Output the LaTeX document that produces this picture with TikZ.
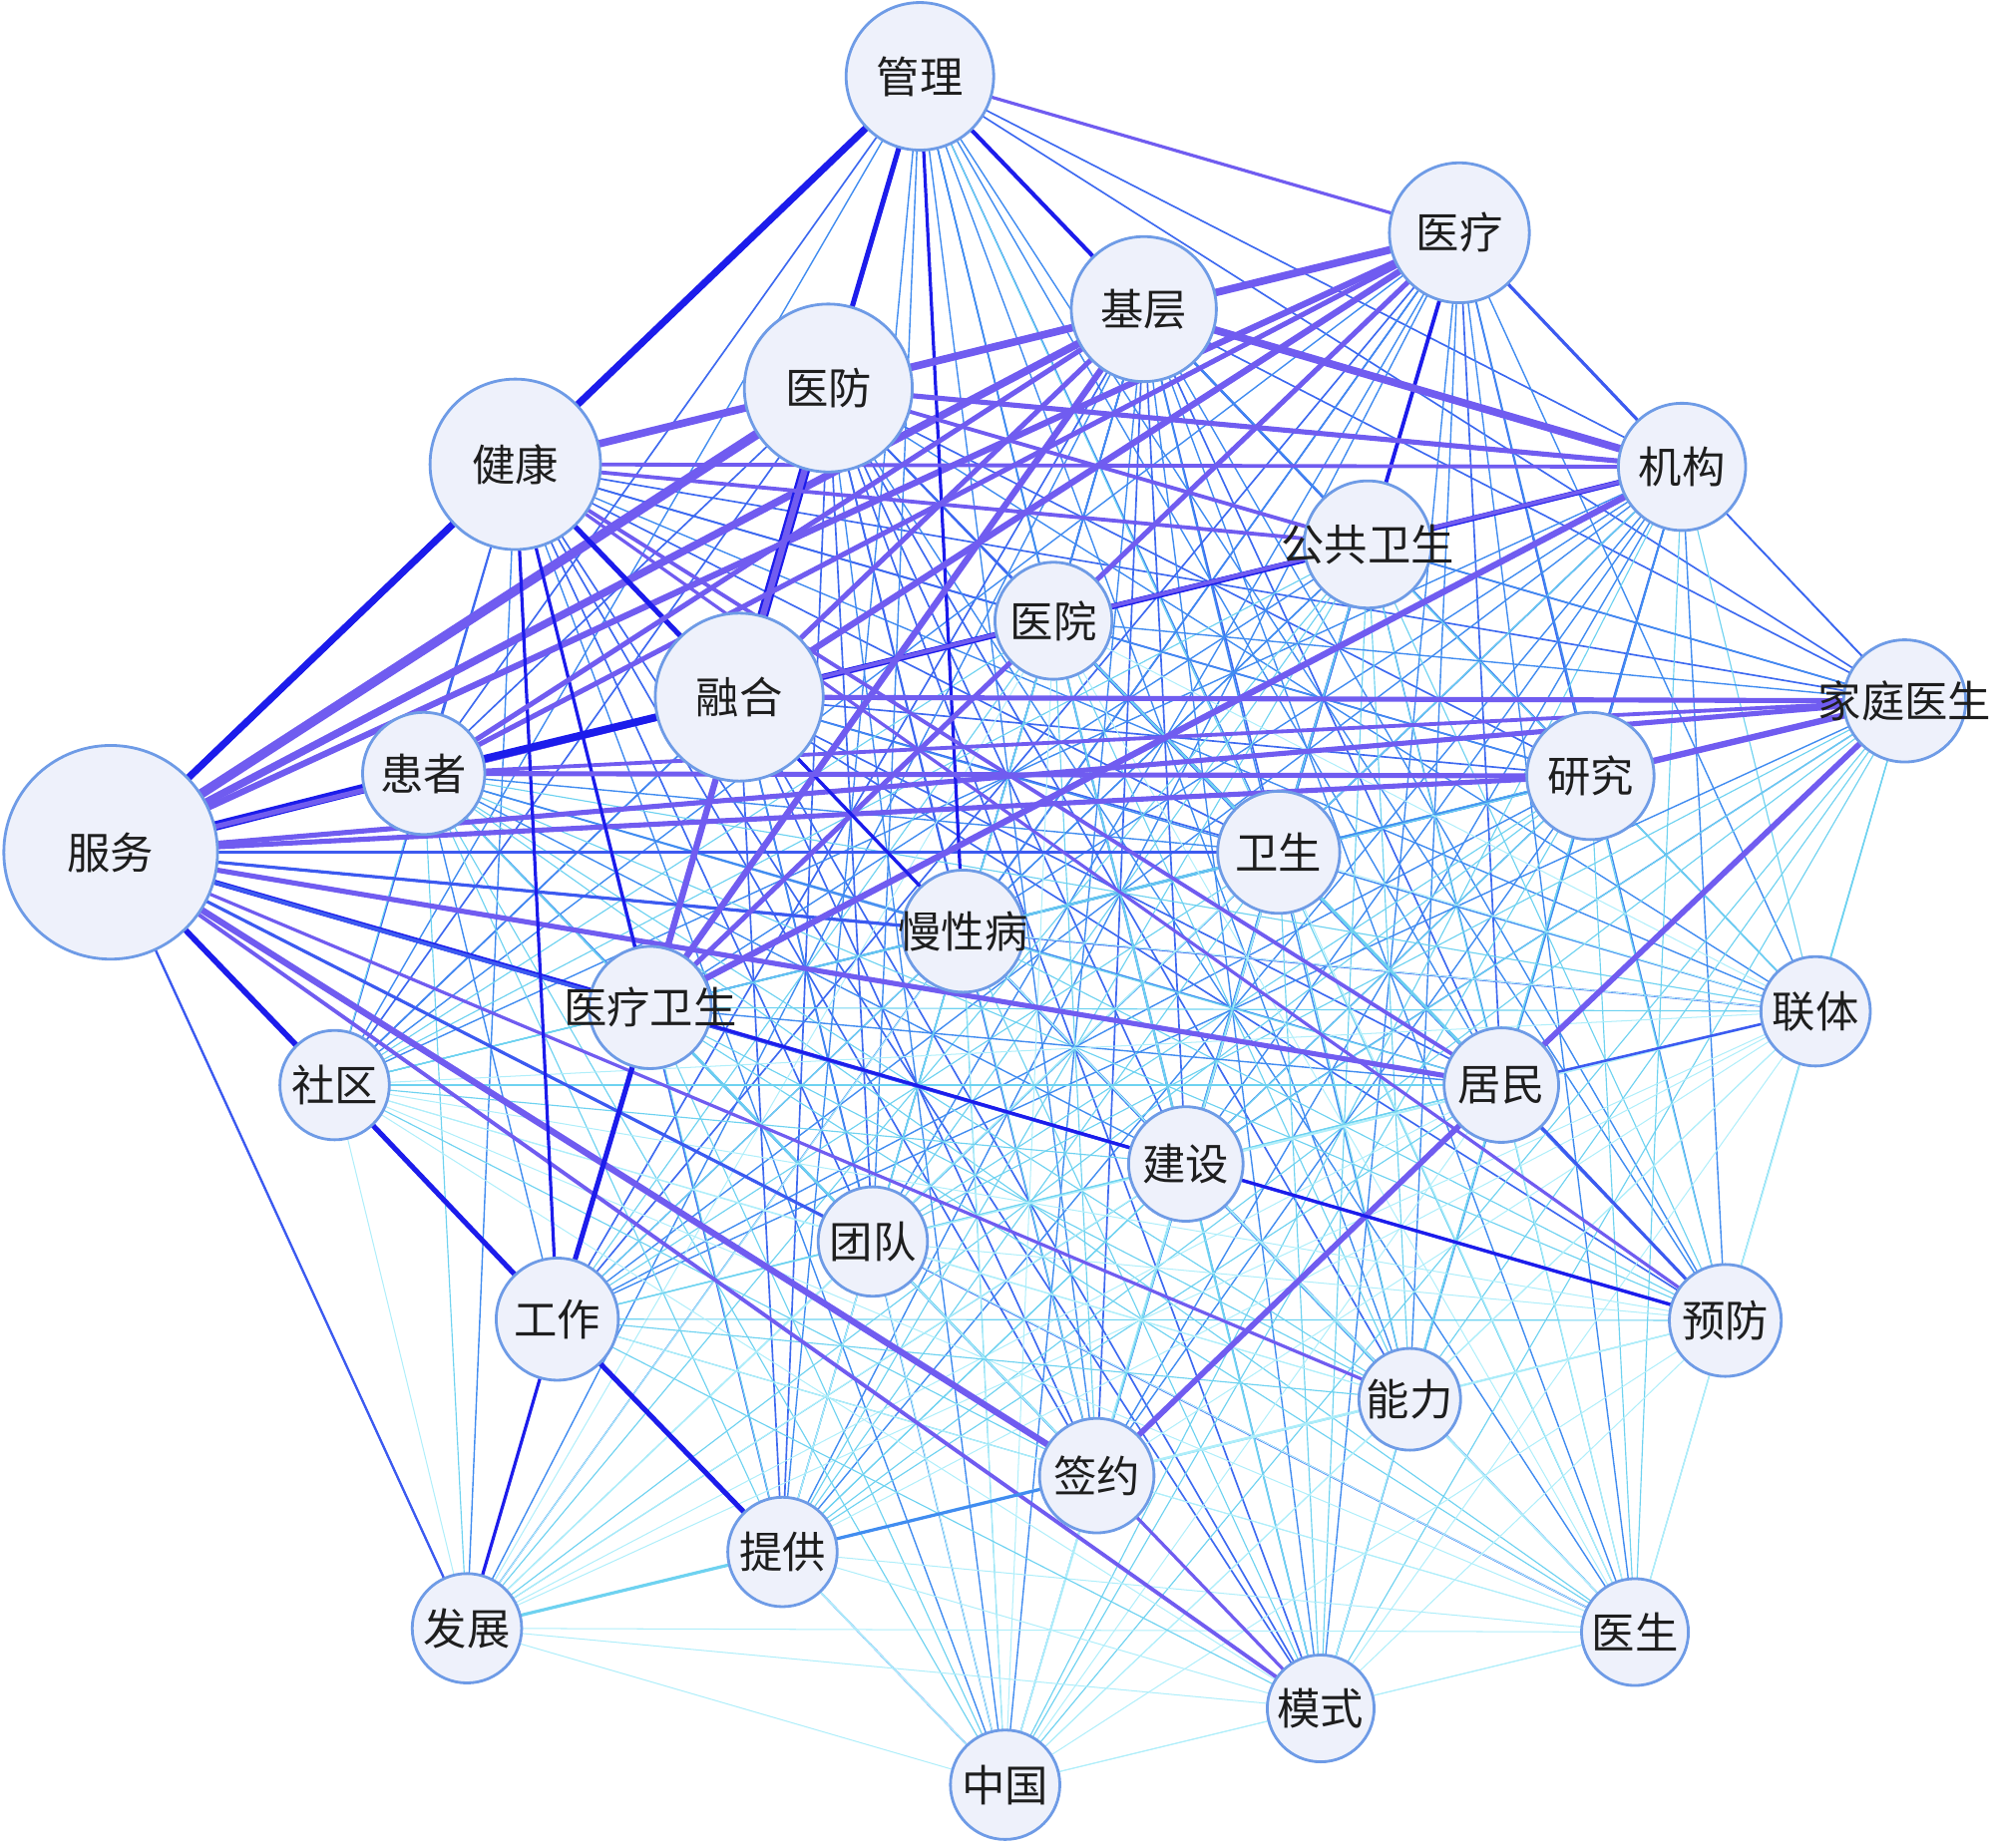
\documentclass[tikz,border=0pt]{standalone}
\usepackage{fontspec}
\setmainfont{Noto Sans CJK SC}
\usetikzlibrary{backgrounds}
\definecolor{pur}{RGB}{112,92,240}
\definecolor{dblue}{RGB}{28,28,235}
\definecolor{mblue}{RGB}{60,90,240}
\definecolor{lblue}{RGB}{65,140,240}
\definecolor{cyanl}{RGB}{110,210,240}
\definecolor{pcyan}{RGB}{175,238,250}
\definecolor{nodeb}{RGB}{110,155,230}
\definecolor{nodef}{RGB}{238,241,251}
\definecolor{txt}{RGB}{30,30,30}
\tikzset{
  kw/.style={circle, draw=nodeb, line width=2.2pt, fill=nodef, text=txt, inner sep=0pt,
    font=\fontsize{34}{34}\selectfont},
  e5/.style={draw=mblue, line width=1.6pt},
  e4/.style={draw=mblue!70!lblue, line width=1.3pt},
  e3/.style={draw=lblue, line width=1.1pt},
  e2/.style={draw=cyanl, line width=0.9pt},
  e1/.style={draw=pcyan, line width=0.8pt},
}
\def\W{{0,10,8,8,8,6,7,7,6,5,5,5,5,4,4,5,4,4,4,4,3,2,3,3,3,2,2,4,3,2,3}}
\begin{document}
\begin{tikzpicture}[x=1pt,y=-1pt]
\useasboundingbox (0,0) rectangle (1568,1452);
\foreach \i/\x/\y/\r/\t in {
 1/87/670/84/服务, 2/405/365/67/健康, 3/651/305/66/医防, 4/581/548/66/融合,
 5/723/60/58/管理, 6/899/243/57/基层, 7/1147/183/55/医疗, 8/1322/367/50/机构,
 9/1075/428/50/公共卫生, 10/1250/610/50/研究, 11/1497/551/48/家庭医生, 12/333/608/48/患者,
 13/1005/670/48/卫生, 14/757/732/48/慢性病, 15/511/792/48/医疗卫生, 16/828/488/46/医院,
 17/1180/853/45/居民, 18/932/915/45/建设, 19/862/1160/45/签约, 20/1356/1038/44/预防,
 21/1427/795/43/联体, 22/263/853/43/社区, 23/686/976/43/团队, 24/615/1220/43/提供,
 25/367/1280/43/发展, 26/790/1403/43/中国, 27/438/1037/48/工作, 28/1108/1100/40/能力,
 29/1285/1283/42/医生, 30/1038/1343/42/模式}
{
  \node[kw, minimum size=2*\r pt] (n\i) at (\x,\y) {\makebox[0pt][c]{\t}};
}
\begin{pgfonlayer}{background}
\foreach \i in {1,...,29}{
  \pgfmathtruncatemacro\s{\i+1}
  \foreach \j in {\s,...,30}{
    \pgfmathtruncatemacro\sc{\W[\i]+\W[\j]}
    \ifnum\sc>13 \def\st{e5}\else
    \ifnum\sc>10 \def\st{e4}\else
    \ifnum\sc>8 \def\st{e3}\else
    \ifnum\sc>6 \def\st{e2}\else \def\st{e1}\fi\fi\fi\fi
    \draw[\st] (n\i.center) -- (n\j.center);
  }
}
\foreach \a/\b/\c/\w in {
 1/5/dblue/5.5, 1/2/dblue/5, 1/3/pur/7.5, 1/6/pur/6, 1/7/pur/5, 1/4/pur/5,
 1/12/dblue/7.5, 1/8/pur/4, 1/11/pur/4, 1/10/pur/4, 1/13/mblue/2.5, 1/15/dblue/4,
 1/17/pur/4, 1/22/dblue/4.5, 1/19/pur/5, 1/30/pur/3, 1/18/mblue/2.5, 1/20/mblue/2.5,
 1/25/mblue/1.8, 1/23/mblue/2.5, 1/14/mblue/2.5, 1/28/pur/2.5, 1/16/pur/2.5, 1/9/pur/2.5,
 5/3/dblue/4, 5/6/dblue/3.2, 5/7/pur/2.5, 5/14/dblue/2.5,
 6/3/dblue/4, 6/7/dblue/3.2, 2/3/dblue/4, 3/4/dblue/8.5, 2/4/dblue/4, 4/12/dblue/6,
 4/16/dblue/4.5, 16/9/dblue/4.5, 8/9/dblue/4, 7/9/dblue/3, 7/8/mblue/2.5,
 6/8/pur/6, 7/2/pur/6, 7/4/pur/5, 7/15/pur/4, 7/12/pur/4, 6/15/pur/5, 6/4/pur/4,
 6/2/pur/4, 8/15/pur/5, 8/3/pur/4, 8/2/pur/3, 8/4/pur/3,
 10/11/pur/5, 11/4/pur/4, 11/12/pur/3, 11/17/pur/4.5, 17/19/pur/4.5,
 27/15/dblue/4, 27/22/dblue/4, 27/24/dblue/4, 27/25/dblue/2.5, 14/4/dblue/2.5,
 2/17/pur/3, 2/27/dblue/2.5, 2/15/dblue/2.5, 2/9/pur/3, 3/15/pur/5, 3/9/pur/3,
 15/18/dblue/2.5, 12/10/pur/4, 12/6/pur/4, 20/17/mblue/2.5, 20/2/pur/2.5, 20/18/dblue/2.5,
 21/17/mblue/2, 30/19/pur/2.5, 24/19/lblue/2.5, 25/24/cyanl/2.5}
{
  \draw[draw=\c, line width=\w pt] (n\a.center) -- (n\b.center);
}
\end{pgfonlayer}
\end{tikzpicture}
\end{document}
